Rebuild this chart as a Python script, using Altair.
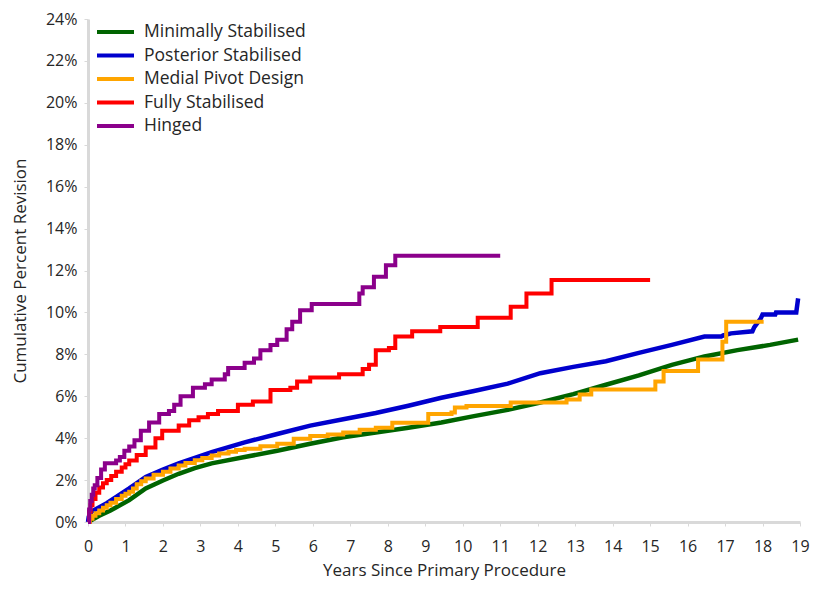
import altair as alt
import pandas as pd

series_names = ["Minimally Stabilised", "Posterior Stabilised", "Medial Pivot Design",
                "Fully Stabilised", "Hinged"]
series_colors = ["#006400", "#0000CD", "#FFA500", "#FF0000", "#8B008B"]

# Smooth-ish curves (many events)
min_t = [0, 0.3, 0.6, 1.1, 1.54, 2.0, 2.42, 2.85, 3.3, 4.18, 5.05, 5.93, 6.81, 7.68, 8.55,
         9.43, 10.3, 11.2, 12.07, 12.95, 13.82, 14.7, 15.58, 16.45, 17.33, 18.2, 18.95]
min_v = [0, 0.3, 0.55, 1.04, 1.6, 1.98, 2.3, 2.57, 2.8, 3.1, 3.4, 3.73, 4.04, 4.27, 4.5,
         4.75, 5.05, 5.35, 5.7, 6.1, 6.55, 7.0, 7.5, 7.9, 8.2, 8.45, 8.7]

post_t = [0, 0.02, 0.1, 0.5, 1.1, 1.54, 2.0, 2.42, 3.3, 4.18, 5.05, 5.93, 6.81, 7.68, 8.55,
          9.43, 10.3, 11.2, 12.07, 12.95, 13.82, 14.7, 15.58, 16.45, 16.9, 16.95, 17.16,
          17.73, 17.78, 17.95, 18.0, 18.34, 18.36, 18.9, 18.93, 18.95]
post_v = [0, 0.25, 0.5, 0.9, 1.6, 2.15, 2.5, 2.8, 3.33, 3.8, 4.2, 4.6, 4.9, 5.2, 5.55,
          5.93, 6.25, 6.6, 7.1, 7.4, 7.67, 8.07, 8.45, 8.85, 8.85, 8.9, 9.0,
          9.1, 9.3, 9.7, 9.9, 9.9, 10.0, 10.0, 10.4, 10.67]

# Step curves (fewer events)
med_t = [0, 0.05, 0.12, 0.2, 0.3, 0.4, 0.5, 0.6, 0.75, 0.9, 1.0, 1.1, 1.2, 1.3, 1.42, 1.54,
         1.75, 2.0, 2.2, 2.42, 2.6, 2.85, 3.05, 3.3, 3.5, 3.75, 3.95, 4.18, 4.6, 5.05,
         5.49, 5.93, 6.4, 6.81, 7.25, 7.68, 8.12, 9.08, 9.7, 9.79, 10.1, 11.28, 12.77,
         13.12, 13.43, 15.14, 15.36, 16.28, 16.93, 17.03, 18.03]
med_v = [0, 0.15, 0.3, 0.42, 0.55, 0.68, 0.8, 0.92, 1.1, 1.25, 1.35, 1.44, 1.6, 1.8, 1.95, 2.08,
         2.25, 2.4, 2.55, 2.7, 2.82, 2.95, 3.05, 3.17, 3.27, 3.35, 3.43, 3.5, 3.62, 3.73,
         3.97, 4.1, 4.18, 4.27, 4.4, 4.5, 4.74, 5.15, 5.22, 5.46, 5.54, 5.7, 5.85,
         6.08, 6.32, 6.7, 7.2, 7.75, 8.6, 9.56, 9.56]

full_t = [0, 0.03, 0.07, 0.12, 0.2, 0.3, 0.4, 0.5, 0.62, 0.75, 0.9, 1.0, 1.1, 1.3, 1.54,
          1.8, 1.98, 2.42, 2.7, 2.95, 3.2, 3.47, 4.0, 4.4, 4.87, 5.4, 5.58, 5.93, 6.7,
          7.33, 7.5, 7.68, 8.03, 8.2, 8.65, 9.4, 10.4, 11.28, 11.7, 12.37, 15.0]
full_v = [0, 0.5, 0.8, 1.1, 1.4, 1.65, 1.85, 2.0, 2.2, 2.4, 2.6, 2.75, 2.93, 3.2, 3.55,
          4.0, 4.35, 4.6, 4.85, 5.0, 5.15, 5.3, 5.6, 5.75, 6.3, 6.4, 6.7, 6.9, 7.05,
          7.3, 7.5, 8.2, 8.3, 8.85, 9.1, 9.3, 9.75, 10.27, 10.9, 11.55, 11.55]

hinge_t = [0, 0.03, 0.06, 0.1, 0.14, 0.18, 0.25, 0.35, 0.45, 0.75, 0.85, 0.97, 1.1, 1.24,
           1.41, 1.63, 1.9, 2.16, 2.3, 2.47, 2.8, 3.12, 3.3, 3.65, 3.74, 4.18, 4.43, 4.6,
           4.87, 5.05, 5.3, 5.45, 5.66, 5.97, 7.24, 7.33, 7.63, 7.95, 8.2, 11.0]
hinge_v = [0, 0.6, 1.0, 1.3, 1.6, 1.75, 2.1, 2.5, 2.8, 2.93, 3.1, 3.4, 3.6, 3.9,
           4.35, 4.75, 5.15, 5.3, 5.6, 6.0, 6.4, 6.57, 6.8, 7.05, 7.35, 7.6, 7.8, 8.2,
           8.45, 8.7, 9.2, 9.55, 10.1, 10.4, 10.9, 11.2, 11.7, 12.25, 12.7, 12.7]

x_ticks = list(range(0, 20))
y_ticks = list(range(0, 25, 2))


def frame(name, ts, vs, order):
    return pd.DataFrame({"Years": ts, "Revision": vs, "Series": name, "ord": order})


smooth_df = pd.concat([frame(series_names[0], min_t, min_v, 0),
                       frame(series_names[1], post_t, post_v, 1)])
step_df = pd.concat([frame(series_names[2], med_t, med_v, 2),
                     frame(series_names[3], full_t, full_v, 3),
                     frame(series_names[4], hinge_t, hinge_v, 4)])

FONT = "Open Sans"
TXT = "#262626"

x_enc = alt.X("Years:Q",
              scale=alt.Scale(domain=[0, 19], nice=False, zero=False),
              axis=alt.Axis(values=x_ticks, title="Years Since Primary Procedure",
                            format="d", grid=False, domainColor="#d9d9d9", domainWidth=3,
                            tickColor="#d9d9d9", tickSize=4, labelPadding=12,
                            labelFontSize=16, titleFontSize=17, titleFontWeight="normal",
                            titlePadding=8, labelColor=TXT, titleColor=TXT,
                            labelFont=FONT, titleFont=FONT, labelFlush=False))
y_enc = alt.Y("Revision:Q",
              scale=alt.Scale(domain=[0, 24], nice=False),
              axis=alt.Axis(values=y_ticks, title="Cumulative Percent Revision",
                            labelExpr="datum.value + '%'", grid=False,
                            domainColor="#d9d9d9", domainWidth=3, tickColor="#d9d9d9",
                            tickSize=4, labelPadding=7, labelFontSize=16,
                            titleFontSize=17, titleFontWeight="normal", titlePadding=16,
                            labelColor=TXT, titleColor=TXT,
                            labelFont=FONT, titleFont=FONT))
color_enc = alt.Color("Series:N",
                      scale=alt.Scale(domain=series_names, range=series_colors),
                      sort=series_names,
                      legend=alt.Legend(orient="none", legendX=7, legendY=3, title=None,
                                        symbolType="stroke", symbolSize=1369,
                                        symbolStrokeWidth=4, labelFontSize=17.5,
                                        labelFont=FONT, labelColor=TXT, labelLimit=300,
                                        labelOffset=8, clipHeight=20, rowPadding=3.5))

smooth = alt.Chart(smooth_df).mark_line(interpolate="linear", strokeWidth=4.5).encode(
    x=x_enc, y=y_enc, color=color_enc, detail="Series:N", order="ord:Q")
steps = alt.Chart(step_df).mark_line(interpolate="step-after", strokeWidth=4).encode(
    x=x_enc, y=y_enc, color=color_enc, detail="Series:N")

chart = alt.layer(smooth, steps).properties(
    width=712, height=503,
    autosize=alt.AutoSizeParams(type="none"),
    padding={"left": 80, "top": 11, "right": 11, "bottom": 60},
    background="white",
).configure_view(stroke=None)

chart.save("out.html", embed_options={"renderer": "svg", "actions": False})
